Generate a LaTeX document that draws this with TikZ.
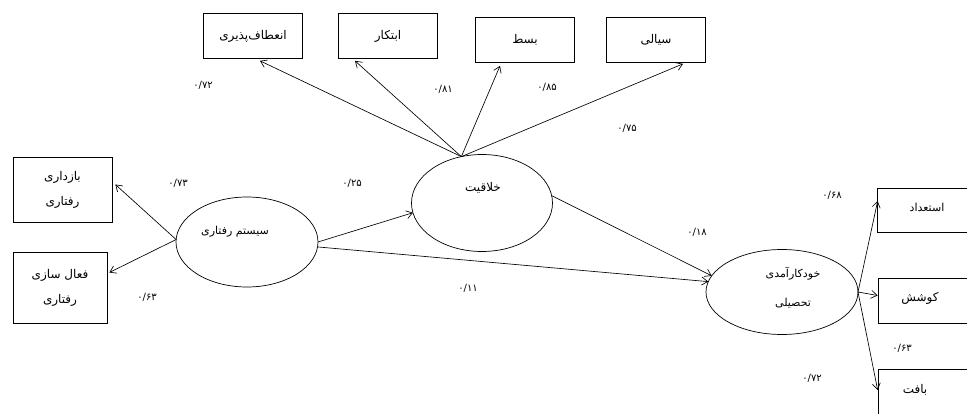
\documentclass[tikz,border=0pt]{standalone}
\usepackage{fontspec}
\usetikzlibrary{shapes.geometric,arrows.meta,calc}
\newfontfamily\fa[Script=Arabic]{DejaVu Sans}
\TeXXeTstate=1
\newcommand{\fatext}[1]{{\fa\beginR #1\endR}}
\tikzset{
  obsbox/.style={draw, rectangle, line width=0.7pt, inner sep=0pt, minimum width=100pt, minimum height=45pt, align=center, font=\fa\fontsize{12}{25}\selectfont},
  latent/.style={draw, ellipse, line width=0.7pt, inner sep=0pt, outer sep=0pt},
  lbl/.style={inner sep=0pt, align=center, font=\fa\fontsize{11}{29}\selectfont},
  coef/.style={inner sep=0pt, font=\fa\fontsize{10}{12}\selectfont},
  pth/.style={-{Straight Barb[length=6pt,width=8pt]}, line width=0.65pt}
}
\begin{document}
\begin{tikzpicture}[x=1pt,y=-1pt]
\useasboundingbox (0,0) rectangle (967,414);
\fill[white] (0,0) rectangle (967,414);
\clip (0,0) rectangle (967,414);
% top indicator boxes
\node[obsbox, minimum width=99pt] (flex) at (253,36) {\fatext{انعطاف‌پذیری}};
\node[obsbox, minimum width=99pt] (innov) at (388,36) {\fatext{ابتکار}};
\node[obsbox, minimum width=99pt] (elab) at (525,40) {\fatext{بسط}};
\node[obsbox, minimum width=99pt] (flu) at (656,40) {\fatext{سیالی}};
% left boxes
\node[obsbox, minimum width=99pt, minimum height=65pt] (baz) at (62.5,189.5) {\fatext{بازداری}\\\fatext{رفتاری}};
\node[obsbox, minimum width=94pt, minimum height=71pt] (faal) at (60,287.5) {\fatext{فعال سازی}\\\fatext{رفتاری}};
% right boxes
\node[obsbox, minimum width=100pt, minimum height=44pt] (est) at (927,210) {};
\node[obsbox, minimum width=100pt, minimum height=45pt] (kos) at (928,300.5) {};
\node[obsbox, minimum width=100pt, minimum height=45pt] (baft) at (928,392) {};
\node[lbl] (estT) at (927,207) {\fatext{استعداد}};
\node[lbl, font=\fa\fontsize{12}{14}\selectfont] (kosT) at (920,298) {\fatext{کوشش}};
\node[lbl, font=\fa\fontsize{12}{14}\selectfont] (baftT) at (915,390) {\fatext{بافت}};
% latent variables
\node[latent, minimum width=142pt, minimum height=90pt] (sys) at (247,242) {};
\node[lbl] (sysT) at (235,232) {\fatext{سیستم رفتاری}};
\node[latent, minimum width=141pt, minimum height=97pt] (cre) at (482,203) {};
\node[lbl, font=\fa\fontsize{12}{14}\selectfont] (creT) at (483,188) {\fatext{خلاقیت}};
\node[latent, minimum width=152pt, minimum height=85pt] (aca) at (782,292) {};
\node[lbl] (acaT) at (793,288) {\fatext{خودکارآمدی}\\\fatext{تحصیلی}};
% paths
\draw[pth] (cre.114) -- ([xshift=7pt,yshift=-2pt]flex.south);
\draw[pth] (cre.114) -- ([xshift=-33pt,yshift=-2pt]innov.south);
\draw[pth] (cre.114) -- ([xshift=-25pt,yshift=-3pt]elab.south);
\draw[pth] (cre.114) -- ([xshift=27pt,yshift=-1pt]flu.south);
\draw[pth] (sys.178) -- ([xshift=3pt,yshift=5pt]baz.east);
\draw[pth] (sys.178) -- ([xshift=2pt,yshift=15pt]faal.east);
\draw[pth] (sys.east) -- (cre.188);
\draw[pth] (sys.-4) -- (aca.172);
\draw[pth] (cre.6) -- (aca.167);
\draw[pth] (aca.east) -- ([xshift=1pt,yshift=9pt]est.west);
\draw[pth] (aca.east) -- ([yshift=5pt]kos.west);
\draw[pth] (aca.east) -- ([yshift=2pt]baft.west);
% coefficients
\node[coef] (c1) at (203,85) {۰/۷۲};
\node[coef] (c2) at (443,89) {۰/۸۱};
\node[coef] (c3) at (547,87) {۰/۸۵};
\node[coef] (c4) at (627,128) {۰/۷۵};
\node[coef] (c5) at (178,183) {۰/۷۳};
\node[coef] (c6) at (352,183) {۰/۲۵};
\node[coef] (c7) at (147,297) {۰/۶۳};
\node[coef] (c8) at (468,288) {۰/۱۱};
\node[coef] (c9) at (697,232) {۰/۱۸};
\node[coef] (c10) at (832,195) {۰/۶۸};
\node[coef] (c11) at (902,348) {۰/۶۳};
\node[coef] (c12) at (812,378) {۰/۷۲};
\end{tikzpicture}
\end{document}
